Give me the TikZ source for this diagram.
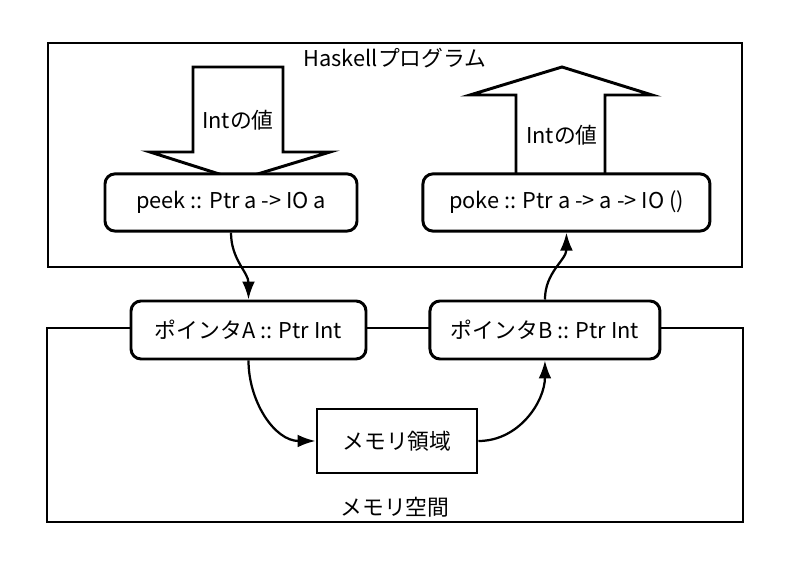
\documentclass[tikz,border=0pt]{standalone}
\usepackage{fontspec}
\setmainfont{Noto Sans CJK JP}
\usetikzlibrary{positioning,arrows.meta}
\tikzset{
  box/.style={draw,line width=2.1pt,rounded corners=2.5mm,fill=white,minimum height=1.43cm},
  area/.style={draw,line width=2.1pt},
  bigarrow/.style={draw,line width=2.1pt,fill=white,line join=miter},
  link/.style={-{Latex[length=4.5mm,width=3.2mm]},line width=1.6pt},
}
\begin{document}
\begin{tikzpicture}[font=\fontsize{15.5}{18}\selectfont]
  \useasboundingbox (0,0) rectangle (20,14.15);
  % Haskell side
  \draw[area] (1.2,7.475) rectangle (18.55,13.075);
  \node (hs) at (9.875,12.7) {Haskellプログラム};
  \draw[bigarrow] (4.825,12.475) -- (7.075,12.475) -- (7.075,10.35) -- (8.25,10.35)
    -- (5.95,9.65) -- (3.75,10.35) -- (4.825,10.35) -- cycle;
  \draw[bigarrow] (12.9,9.725) -- (15.125,9.725) -- (15.125,11.775) -- (16.3,11.775)
    -- (14.05,12.475) -- (11.75,11.775) -- (12.9,11.775) -- cycle;
  \node (valin) at (5.95,11.15) {Intの値};
  \node (valout) at (14.05,10.775) {Intの値};
  \node[box,minimum width=6.3cm] (peek) at (5.775,9.0875) {peek :: Ptr a -> IO a};
  \node[box,minimum width=7.175cm,right=1.575cm of peek] (poke) {poke :: Ptr a -> a -> IO ()};
  % memory side
  \draw[area] (1.175,1.1) rectangle (18.575,5.95);
  \node (space) at (9.875,1.475) {メモリ空間};
  \node[box,minimum width=5.875cm,minimum height=1.45cm] (ptrA) at (6.2125,5.9) {ポインタA :: Ptr Int};
  \node[box,minimum width=5.75cm,minimum height=1.45cm,right=1.525cm of ptrA] (ptrB) {ポインタB :: Ptr Int};
  \node[box,rounded corners=0pt,minimum width=4cm,minimum height=1.6cm] (region) at (9.925,3.125) {メモリ領域};

  \draw[link] (peek.south) to[out=-90,in=90] (ptrA.north);
  \draw[link] (ptrA.south) to[out=-90,in=180] (region.west);
  \draw[link] (region.east) to[out=0,in=-90] (ptrB.south);
  \draw[link] (ptrB.north) to[out=90,in=-90] (poke.south);
\end{tikzpicture}
\end{document}
